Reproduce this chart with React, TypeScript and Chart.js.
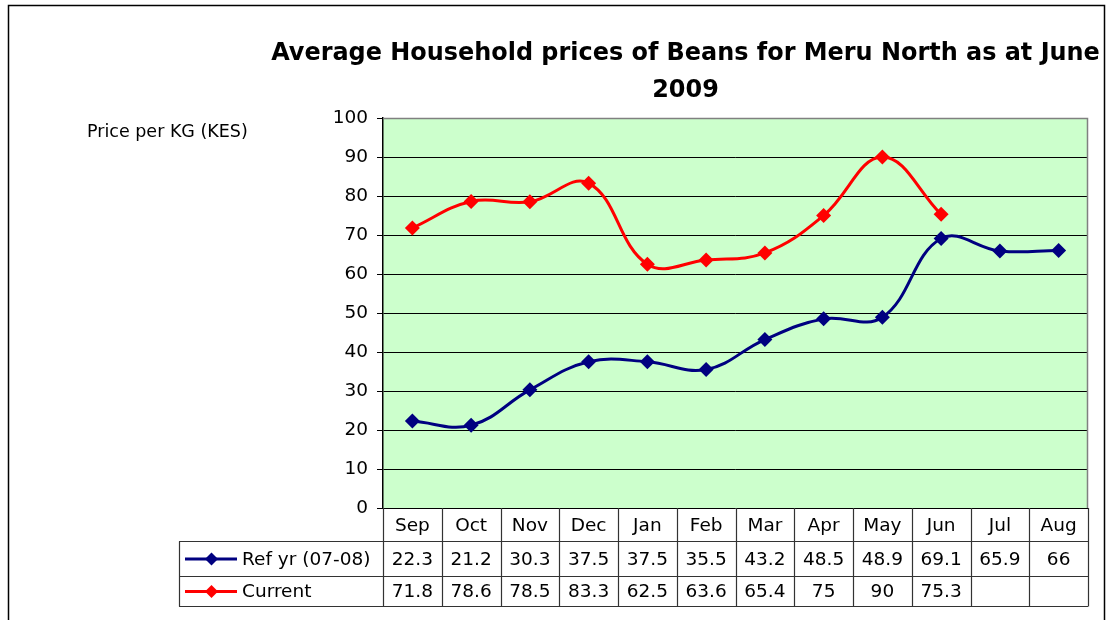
import React, { useEffect, useRef } from "react";
import { Chart, registerables } from "chart.js";

Chart.register(...registerables);

const categories = ["Sep", "Oct", "Nov", "Dec", "Jan", "Feb", "Mar", "Apr", "May", "Jun", "Jul", "Aug"];
const refYr: (number | null)[] = [22.3, 21.2, 30.3, 37.5, 37.5, 35.5, 43.2, 48.5, 48.9, 69.1, 65.9, 66];
const current: (number | null)[] = [71.8, 78.6, 78.5, 83.3, 62.5, 63.6, 65.4, 75, 90, 75.3, null, null];
const seriesNames = ["Ref yr (07-08)", "Current"];
const seriesColors = ["#000080", "#FF0000"];
const titleLines = ["Average Household prices of Beans for Meru North as at June", "2009"];
const yAxisLabel = "Price per KG (KES)";
const yMin = 0;
const yMax = 100;
const yStep = 10;

const FONT = '"DejaVu Sans", "Liberation Sans", Arial, sans-serif';

function drawDiamond(ctx: CanvasRenderingContext2D, x: number, y: number, r: number, color: string) {
  ctx.beginPath();
  ctx.moveTo(x - r, y);
  ctx.lineTo(x, y - r);
  ctx.lineTo(x + r, y);
  ctx.lineTo(x, y + r);
  ctx.closePath();
  ctx.fillStyle = color;
  ctx.fill();
}

const customPlugin = {
  id: "custom",
  beforeDraw(chart: any) {
    const { ctx, chartArea: a } = chart;
    ctx.save();
    ctx.fillStyle = "#ffffff";
    ctx.fillRect(0, 0, chart.width, chart.height);
    ctx.fillStyle = "#CCFFCC";
    ctx.fillRect(a.left, a.top, a.right - a.left, a.bottom - a.top);
    ctx.restore();
  },
  beforeDatasetsDraw(chart: any) {
    const { ctx, chartArea: a } = chart;
    ctx.save();
    ctx.strokeStyle = "#808080";
    ctx.lineWidth = 1.5;
    ctx.beginPath();
    ctx.moveTo(a.left, a.top + 0.5);
    ctx.lineTo(a.right - 0.5, a.top + 0.5);
    ctx.lineTo(a.right - 0.5, a.bottom);
    ctx.stroke();
    ctx.restore();
  },
  afterDraw(chart: any) {
    const { ctx, chartArea: a } = chart;
    const xs = chart.scales.x;
    const n = categories.length;
    const colW = (a.right - a.left) / n;
    const tableLeft = 179;
    const rowY = [a.bottom, 541.5, 576.5, 606.5];
    ctx.save();

    // table lines
    ctx.strokeStyle = "#333333";
    ctx.lineWidth = 1.2;
    ctx.beginPath();
    for (let i = 1; i < rowY.length; i++) {
      ctx.moveTo(tableLeft, rowY[i]);
      ctx.lineTo(a.right, rowY[i]);
    }
    ctx.moveTo(tableLeft + 0.5, rowY[1]);
    ctx.lineTo(tableLeft + 0.5, rowY[3]);
    for (let i = 0; i <= n; i++) {
      const x = Math.round(a.left + i * colW) + 0.5;
      ctx.moveTo(x, rowY[0]);
      ctx.lineTo(x, rowY[3]);
    }
    ctx.stroke();

    // table texts
    ctx.fillStyle = "#000";
    ctx.font = `18.5px ${FONT}`;
    ctx.textAlign = "center";
    ctx.textBaseline = "middle";
    const data = [refYr, current];
    for (let i = 0; i < n; i++) {
      const cx = xs.getPixelForValue(i);
      ctx.fillText(categories[i], cx, (rowY[0] + rowY[1]) / 2 + 1);
      for (let s = 0; s < data.length; s++) {
        const v = data[s][i];
        if (v !== null && v !== undefined) {
          ctx.fillText(String(v), cx, (rowY[s + 1] + rowY[s + 2]) / 2 + 1);
        }
      }
    }
    // legend keys
    ctx.textAlign = "left";
    for (let s = 0; s < seriesNames.length; s++) {
      const cy = (rowY[s + 1] + rowY[s + 2]) / 2;
      ctx.strokeStyle = seriesColors[s];
      ctx.lineWidth = 3;
      ctx.beginPath();
      ctx.moveTo(185, cy);
      ctx.lineTo(237, cy);
      ctx.stroke();
      drawDiamond(ctx, 211.5, cy, 6.5, seriesColors[s]);
      ctx.fillStyle = "#000";
      ctx.fillText(seriesNames[s], 242, cy + 1);
    }

    // y axis label
    ctx.font = `17.5px ${FONT}`;
    ctx.textAlign = "left";
    ctx.textBaseline = "alphabetic";
    ctx.fillText(yAxisLabel, 87, 137);

    // title
    let size = 24;
    ctx.font = `bold ${size}px ${FONT}`;
    const w = ctx.measureText(titleLines[0]).width;
    size = Math.min(24, (size * 829) / w);
    ctx.font = `bold ${size}px ${FONT}`;
    ctx.textAlign = "center";
    ctx.fillText(titleLines[0], 685.5, 60);
    ctx.fillText(titleLines[1], 685.5, 97);

    // outer frame
    ctx.strokeStyle = "#000";
    ctx.lineWidth = 1.5;
    ctx.strokeRect(8.5, 5.5, 1096, 640);
    ctx.restore();
  },
};

export default function App() {
  const ref = useRef<HTMLCanvasElement>(null);
  useEffect(() => {
    if (!ref.current) return;
    const chart = new Chart(ref.current, {
      type: "line",
      data: {
        labels: categories,
        datasets: [
          {
            label: seriesNames[0],
            data: refYr,
            borderColor: seriesColors[0],
            backgroundColor: seriesColors[0],
            borderWidth: 3,
            pointStyle: "rectRot",
            pointRadius: 7.5,
            pointBorderWidth: 0,
            tension: 0.4,
          },
          {
            label: seriesNames[1],
            data: current,
            borderColor: seriesColors[1],
            backgroundColor: seriesColors[1],
            borderWidth: 3,
            pointStyle: "rectRot",
            pointRadius: 7.5,
            pointBorderWidth: 0,
            tension: 0.4,
          },
        ],
      },
      options: {
        responsive: false,
        animation: false,
        devicePixelRatio: 1,
        layout: { padding: { left: 0, top: 118, right: 25, bottom: 112 } },
        plugins: {
          legend: { display: false },
          title: { display: false },
          tooltip: { enabled: false },
        },
        scales: {
          x: {
            type: "category",
            display: false,
            offset: true,
          },
          y: {
            min: yMin,
            max: yMax,
            afterFit: (scale: any) => {
              scale.width = 383;
            },
            ticks: {
              stepSize: yStep,
              color: "#000",
              font: { family: FONT, size: 18.5 },
              padding: 9,
            },
            grid: {
              color: "#000",
              lineWidth: 1,
              tickLength: 6,
              drawTicks: true,
            },
            border: { color: "#000", width: 1.5 },
          },
        },
      },
      plugins: [customPlugin],
    });
    return () => chart.destroy();
  }, []);
  return (
    <div style={{ position: "absolute", left: 0, top: 0, width: 1113, height: 620 }}>
      <canvas ref={ref} width={1113} height={620} style={{ display: "block" }} />
    </div>
  );
}
